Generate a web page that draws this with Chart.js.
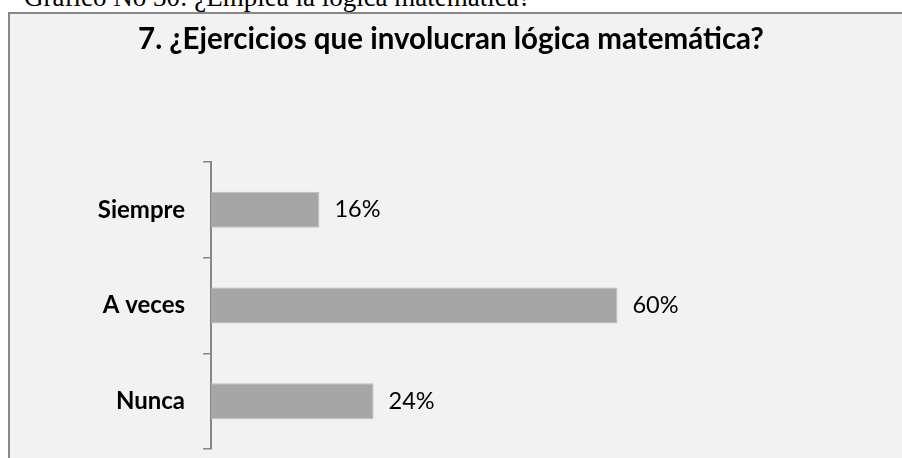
<!DOCTYPE html>
<html>
<head>
<meta charset="utf-8">
<script src="https://cdn.jsdelivr.net/npm/chart.js@4/dist/chart.umd.min.js"></script>
<style>
  body { margin: 0; background: #fff; }
  #page { position: relative; width: 902px; height: 458px; overflow: hidden; }
  #caption { position: absolute; left: 24px; top: -16px; font: 27px/27px "Liberation Serif", serif; color: #000; white-space: nowrap; }
  #box { position: absolute; left: 8px; top: 12px; width: 900px; height: 460px; background: #f2f2f2; border-top: 2px solid #878787; border-left: 2px solid #878787; }
  #grafico { position: absolute; left: 0; top: 0; }
</style>
</head>
<body>
<div id="page">
  <div id="caption">Gráfico No 30: ¿Emplea la lógica matemática?</div>
  <div id="box"></div>
  <canvas id="grafico" width="902" height="458"></canvas>
</div>
<script>
const titulo = "7. ¿Ejercicios que involucran lógica matemática?";
const categorias = ["Siempre", "A veces", "Nunca"];
const porcentajes = [16, 60, 24];

// etiquetas de porcentaje a la derecha de cada barra
const etiquetasBarras = {
    id: "etiquetasBarras",
    afterDatasetsDraw(chart){
        const ctx = chart.ctx;
        const barras = chart.getDatasetMeta(0).data;
        ctx.save();
        ctx.font = "23.5px Lato";
        ctx.fillStyle = "#000";
        ctx.textBaseline = "middle";
        for(let i = 0; i < barras.length; i++){
            ctx.fillText(porcentajes[i] + "%", barras[i].x + 15, barras[i].y);
        }
        ctx.restore();
    }
};

new Chart(document.querySelector("#grafico"), {
    type: "bar",
    data: {
        labels: categorias,
        datasets: [{
            data: porcentajes,
            backgroundColor: "#a6a6a6",
            borderColor: "#bdbdbd",
            borderWidth: 1,
            barPercentage: 0.376,
            categoryPercentage: 1
        }]
    },
    options: {
        indexAxis: "y",
        responsive: false,
        animation: false,
        layout: { padding: { top: 0, right: 0, bottom: 9, left: 0 } },
        plugins: {
            legend: { display: false },
            tooltip: { enabled: false },
            title: {
                display: true,
                text: titulo,
                color: "#000",
                font: { family: "Lato", size: 29.5, weight: "bold", lineHeight: 1.2 },
                padding: { top: 21.3, bottom: 105.3 }
            }
        },
        scales: {
            x: { display: false, min: 0, max: 102 },
            y: {
                afterFit(scale){
                    scale.width = 211;
                    scale.paddingTop = 0;
                    scale.paddingBottom = 0;
                },
                grid: { drawOnChartArea: false, drawTicks: true, tickLength: 8, color: "#878787", lineWidth: 1.5, offset: true },
                border: { display: true, color: "#878787", width: 2 },
                ticks: { color: "#000", padding: 18, font: { family: "Lato", size: 24, weight: "bold" } }
            }
        }
    },
    plugins: [etiquetasBarras]
});
</script>
</body>
</html>
